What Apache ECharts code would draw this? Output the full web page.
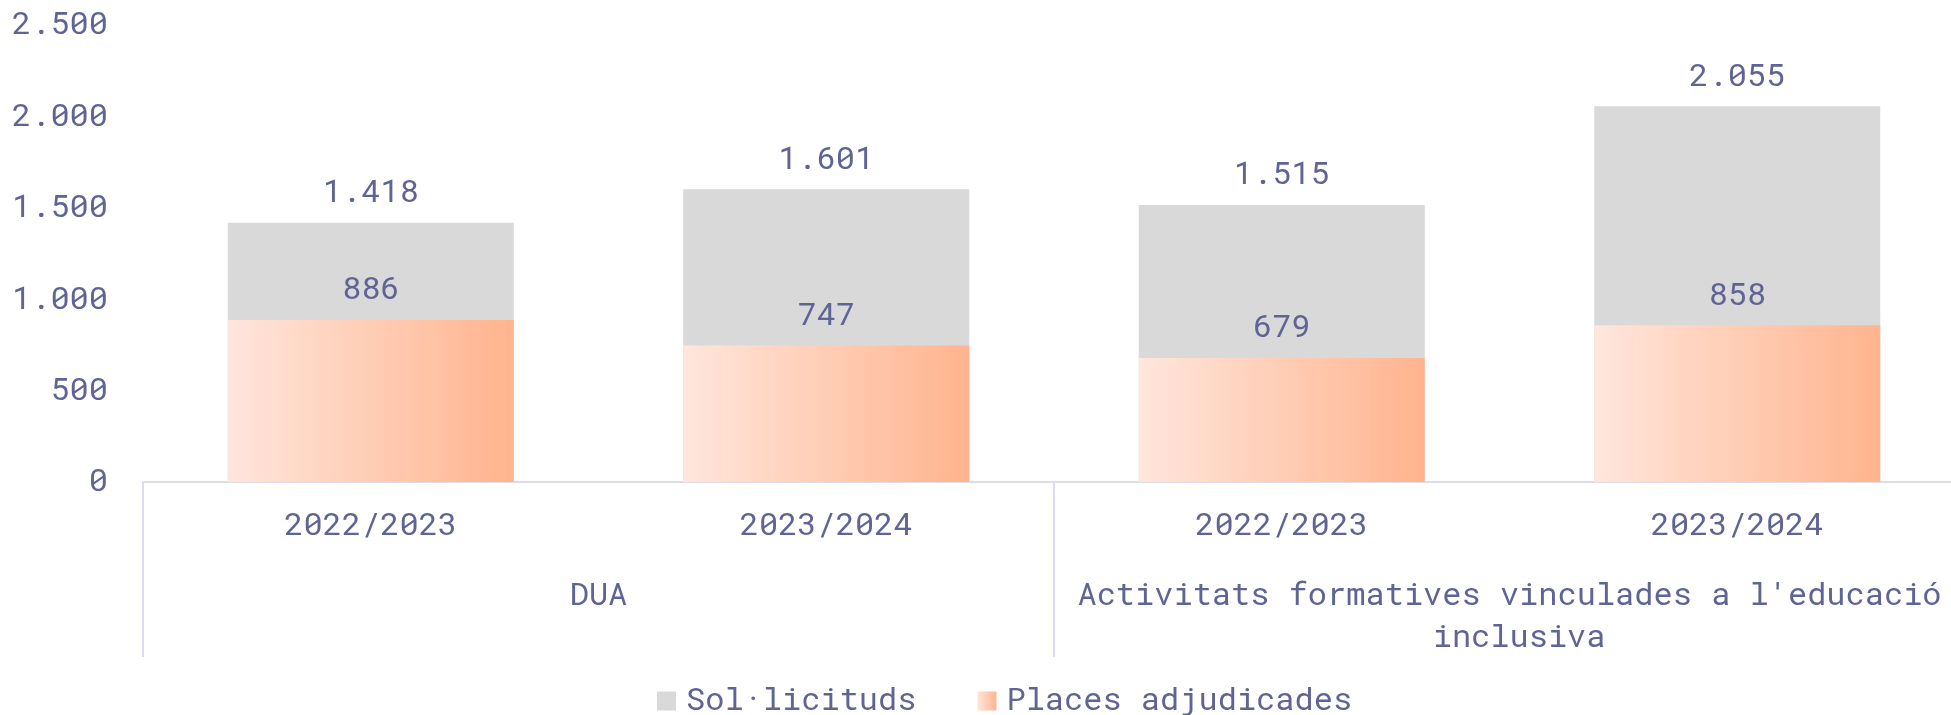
<!DOCTYPE html>
<html>
<head>
<meta charset="utf-8">
<script src="https://cdn.jsdelivr.net/npm/echarts@6/dist/echarts.min.js"></script>
<style>
  html, body { margin: 0; padding: 0; background: #fff; overflow: hidden; }
  /* el gràfic original surt una mica per la dreta */
  #chart { width: 1965px; height: 715px; }
</style>
</head>
<body>
<div id="chart"></div>
<script>
const years = ['2022/2023', '2023/2024', '2022/2023', '2023/2024'];
const groups = ['DUA', "Activitats formatives vinculades a l'educació inclusiva"];
const solicituds = [1418, 1601, 1515, 2055];
const places = [886, 747, 679, 858];

const textColor = '#5f6494';
const lineColor = '#dcdcec';
const font = '"Roboto Mono", "DejaVu Sans Mono", monospace';

// separador de milers amb punt
const fmt = v => String(v).replace(/\B(?=(\d{3})+(?!\d))/g, '.');

const chart = echarts.init(document.getElementById('chart'));

const labelStyle = {
  show: true,
  position: 'top',
  distance: 14,
  color: textColor,
  fontFamily: font,
  fontSize: 32,
  formatter: p => fmt(p.value)
};

chart.setOption({
  animation: false,
  textStyle: { fontFamily: font },
  grid: { left: 143, right: 0, top: 25, bottom: 233, containLabel: false },
  legend: {
    left: 652,
    top: 680,
    icon: 'rect',
    itemWidth: 19,
    itemHeight: 19,
    itemGap: 61,
    textStyle: { color: textColor, fontFamily: font, fontSize: 32, padding: [0, 0, 0, 5] },
    data: ['Sol·licituds', 'Places adjudicades']
  },
  xAxis: [
    {
      type: 'category',
      data: years,
      position: 'bottom',
      axisLine: { show: true, lineStyle: { color: lineColor, width: 2 } },
      axisTick: { show: false },
      axisLabel: {
        color: textColor, fontFamily: font, fontSize: 32, lineHeight: 42, margin: 23, interval: 0
      }
    },
    {
      type: 'category',
      data: groups,
      position: 'bottom',
      axisLine: { show: false },
      axisTick: { show: true, length: 175, interval: 0, lineStyle: { color: lineColor, width: 2 } },
      axisLabel: {
        color: textColor, fontFamily: font, fontSize: 32, lineHeight: 42, margin: 93, interval: 0,
        width: 880, overflow: 'break'
      }
    }
  ],
  yAxis: {
    type: 'value',
    min: 0,
    max: 2500,
    interval: 500,
    axisLine: { show: false },
    axisTick: { show: false },
    splitLine: { show: false },
    axisLabel: { color: textColor, fontFamily: font, fontSize: 32, margin: 35, formatter: fmt }
  },
  series: [
    {
      name: 'Sol·licituds',
      type: 'bar',
      xAxisIndex: 0,
      data: solicituds,
      barWidth: 286,
      barGap: '-100%',
      itemStyle: { color: '#d9d9d9' },
      label: labelStyle
    },
    {
      name: 'Places adjudicades',
      type: 'bar',
      xAxisIndex: 0,
      data: places,
      barWidth: 286,
      barGap: '-100%',
      itemStyle: {
        color: new echarts.graphic.LinearGradient(0, 0, 1, 0, [
          { offset: 0, color: '#ffe6dc' },
          { offset: 1, color: '#ffb48e' }
        ])
      },
      label: labelStyle
    }
  ]
});

window.addEventListener('resize', () => chart.resize());
</script>
</body>
</html>
